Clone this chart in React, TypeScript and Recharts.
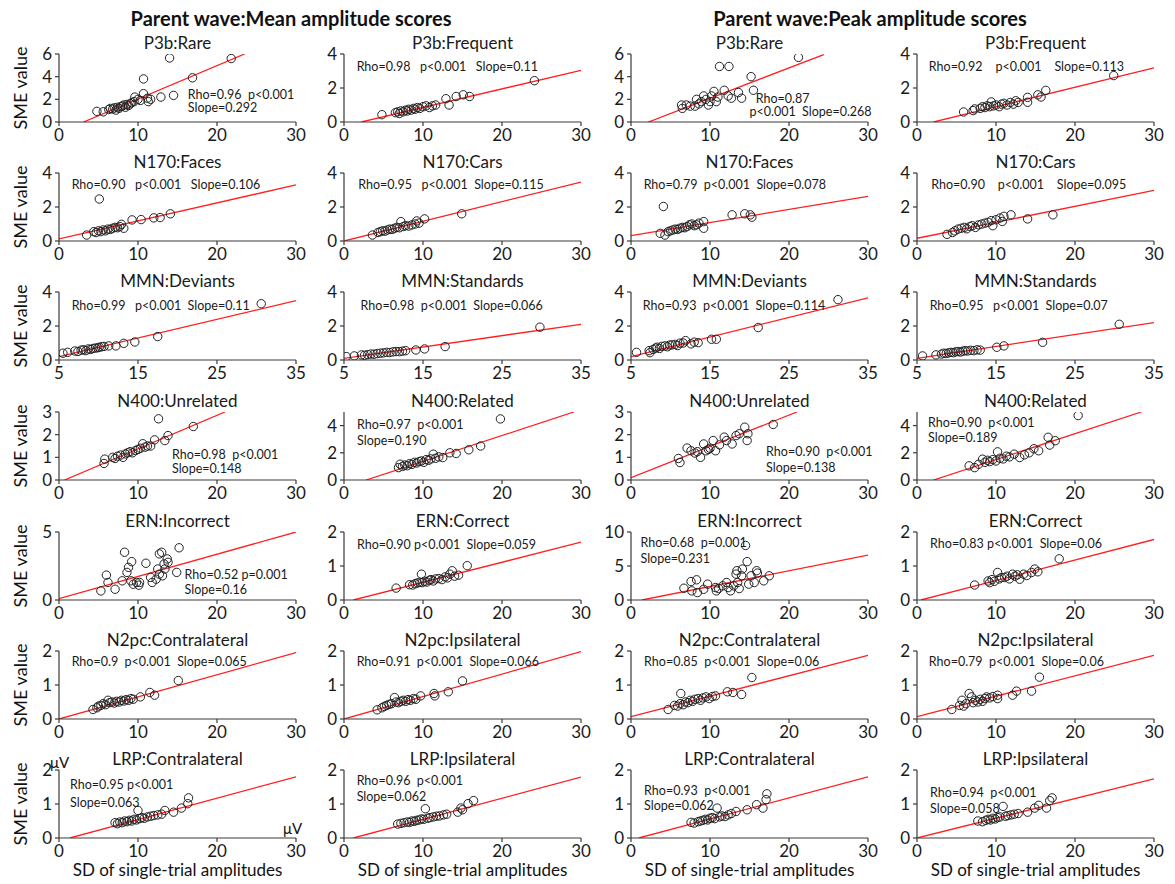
import React from "react";
import { ScatterChart, Scatter, XAxis, YAxis, ReferenceLine } from "recharts";

type Pt = [number, number];

// ---- panel titles, row-major (mean col1, mean col2, peak col1, peak col2) ----
const titles = [
  "P3b:Rare", "P3b:Frequent", "P3b:Rare", "P3b:Frequent",
  "N170:Faces", "N170:Cars", "N170:Faces", "N170:Cars",
  "MMN:Deviants", "MMN:Standards", "MMN:Deviants", "MMN:Standards",
  "N400:Unrelated", "N400:Related", "N400:Unrelated", "N400:Related",
  "ERN:Incorrect", "ERN:Correct", "ERN:Incorrect", "ERN:Correct",
  "N2pc:Contralateral", "N2pc:Ipsilateral", "N2pc:Contralateral", "N2pc:Ipsilateral",
  "LRP:Contralateral", "LRP:Ipsilateral", "LRP:Contralateral", "LRP:Ipsilateral",
];

const headings = ["Parent wave:Mean amplitude scores", "Parent wave:Peak amplitude scores"];

// ---- scatter points (SD of single-trial amplitudes, SME value) ----
const meanP3bRare: Pt[] = [[4.8,0.94],[5.6,0.9],[6.3,1.1],[6.5,1.2],[6.8,1.15],[7.0,1.25],[7.2,1.05],[7.4,1.3],[7.6,1.2],[7.8,1.35],[8.0,1.4],[8.2,1.5],[8.4,1.3],[8.6,1.55],[8.8,1.45],[9.0,1.6],[9.2,1.7],[9.5,1.8],[9.6,2.2],[10.0,2.0],[10.3,1.9],[10.7,3.8],[10.7,2.5],[11.2,2.1],[11.3,1.8],[11.6,2.0],[12.9,2.2],[14.0,5.65],[14.5,2.35],[16.9,3.9],[21.8,5.6]];
const meanP3bFreq: Pt[] = [[4.8,0.43],[6.5,0.55],[6.8,0.6],[7.0,0.5],[7.2,0.65],[7.5,0.6],[7.8,0.7],[8.0,0.65],[8.2,0.75],[8.5,0.7],[8.8,0.8],[9.0,0.75],[9.3,0.85],[9.6,0.8],[10.0,0.9],[10.4,0.95],[10.8,0.85],[11.2,0.95],[11.6,1.0],[12.9,1.37],[13.3,1.0],[14.2,1.5],[15.1,1.6],[15.9,1.5],[24.1,2.43]];
const peakP3bRare: Pt[] = [[6.4,1.5],[6.5,1.2],[7.0,1.5],[7.5,1.4],[8.1,1.4],[8.3,2.0],[8.6,1.6],[8.9,1.8],[9.2,2.3],[9.5,2.0],[9.8,1.5],[10.0,1.8],[10.2,2.3],[10.5,2.7],[10.8,1.8],[11.0,2.2],[11.2,4.9],[11.8,2.8],[12.3,2.3],[12.4,4.9],[12.7,2.1],[13.6,2.6],[14.0,2.1],[15.2,4.0],[15.5,2.8],[21.2,5.7]];
const peakP3bFreq: Pt[] = [[5.9,0.59],[7.1,0.67],[7.3,0.77],[8.0,0.8],[8.3,0.9],[8.6,0.85],[8.9,0.95],[9.2,0.9],[9.4,1.18],[9.7,0.95],[10.0,1.0],[10.4,0.9],[10.7,1.05],[11.0,1.1],[11.4,1.0],[11.8,1.15],[12.2,1.05],[12.5,1.25],[12.8,1.15],[14.0,1.45],[14.0,1.16],[15.3,1.6],[15.7,1.47],[16.3,1.86],[24.9,2.73]];

const meanN170Faces: Pt[] = [[3.5,0.35],[4.4,0.55],[4.7,0.5],[5.0,0.6],[5.1,2.47],[5.3,0.55],[5.6,0.65],[5.9,0.6],[6.2,0.7],[6.5,0.68],[6.8,0.75],[7.1,0.8],[7.4,0.78],[7.7,0.85],[7.9,0.98],[8.2,0.75],[9.25,1.24],[10.4,1.26],[12.0,1.36],[12.8,1.38],[14.1,1.6]];
const meanN170Cars: Pt[] = [[3.6,0.35],[4.3,0.5],[4.6,0.55],[4.9,0.6],[5.2,0.58],[5.5,0.65],[5.8,0.7],[6.1,0.68],[6.4,0.75],[6.7,0.8],[7.0,0.78],[7.2,1.14],[7.5,0.85],[7.8,0.9],[8.2,0.88],[8.6,0.95],[9.0,1.0],[9.2,1.18],[9.5,1.05],[10.2,1.3],[14.9,1.6]];
const peakN170Faces: Pt[] = [[3.7,0.45],[4.1,2.03],[4.3,0.35],[4.7,0.55],[5.0,0.6],[5.3,0.65],[5.6,0.7],[5.9,0.68],[6.2,0.75],[6.5,0.8],[6.8,0.78],[7.1,0.85],[7.4,0.95],[7.7,1.0],[8.0,0.9],[8.3,0.95],[8.6,1.05],[9.2,1.14],[9.2,0.75],[12.8,1.54],[14.4,1.6],[15.1,1.54],[15.3,1.4]];
const peakN170Cars: Pt[] = [[3.8,0.39],[4.5,0.5],[4.8,0.6],[5.2,0.7],[5.6,0.75],[6.0,0.8],[6.3,0.72],[6.7,0.85],[7.0,0.9],[7.4,0.8],[7.8,0.95],[8.2,1.0],[8.6,1.05],[9.0,1.1],[9.4,1.2],[9.6,0.9],[10.0,1.25],[10.5,1.35],[10.8,1.15],[11.0,1.45],[11.9,1.54],[14.0,1.3],[17.2,1.54]];

const meanMmnDev: Pt[] = [[5.5,0.4],[6.1,0.45],[7.0,0.53],[7.4,0.5],[7.8,0.58],[8.1,0.6],[8.4,0.55],[8.7,0.65],[9.0,0.62],[9.3,0.68],[9.6,0.7],[9.9,0.72],[10.1,0.75],[10.4,0.78],[10.7,0.8],[11.3,0.83],[12.2,0.83],[13.2,0.98],[14.6,1.06],[17.5,1.38],[30.6,3.31]];
const meanMmnStd: Pt[] = [[5.3,0.2],[6.3,0.24],[7.2,0.3],[7.6,0.28],[8.0,0.32],[8.4,0.35],[8.8,0.34],[9.2,0.38],[9.6,0.4],[10.0,0.42],[10.4,0.45],[10.8,0.44],[11.2,0.48],[11.6,0.5],[12.0,0.49],[12.4,0.52],[12.8,0.55],[14.1,0.59],[15.2,0.65],[17.8,0.79],[29.8,1.93]];
const peakMmnDev: Pt[] = [[5.7,0.45],[7.3,0.55],[7.4,0.43],[7.8,0.62],[8.1,0.7],[8.3,0.75],[8.6,0.68],[8.9,0.8],[9.3,0.83],[9.6,0.78],[9.9,0.88],[10.2,0.89],[10.6,0.92],[10.9,0.85],[11.2,0.99],[11.6,1.0],[11.9,1.14],[12.6,0.95],[13.0,1.05],[13.5,1.02],[15.2,1.22],[15.8,1.22],[21.1,1.91],[31.2,3.55]];
const peakMmnStd: Pt[] = [[5.7,0.24],[7.4,0.3],[8.1,0.35],[8.4,0.4],[8.7,0.38],[9.0,0.42],[9.3,0.45],[9.6,0.43],[9.9,0.48],[10.2,0.5],[10.5,0.47],[10.8,0.52],[11.1,0.55],[11.4,0.53],[11.8,0.57],[12.2,0.55],[12.6,0.6],[13.0,0.58],[15.1,0.75],[16.0,0.83],[20.9,1.04],[30.6,2.1]];

const meanN400Unrel: Pt[] = [[5.7,0.73],[5.8,0.92],[6.8,1.0],[7.1,0.95],[7.4,1.05],[7.8,1.1],[8.1,1.0],[8.4,1.15],[8.7,1.2],[9.0,1.25],[9.3,1.2],[9.7,1.3],[10.0,1.35],[10.3,1.4],[10.6,1.6],[10.9,1.45],[11.2,1.5],[11.6,1.5],[12.1,1.77],[12.6,2.7],[13.4,1.74],[13.8,1.96],[17.0,2.36]];
const meanN400Rel: Pt[] = [[6.9,0.91],[7.1,1.16],[7.4,1.0],[7.7,1.1],[8.0,1.05],[8.3,1.2],[8.6,1.15],[8.9,1.3],[9.2,1.25],[9.5,1.35],[9.8,1.4],[10.1,1.3],[10.4,1.5],[10.7,1.45],[11.0,1.55],[11.3,1.9],[11.6,1.6],[12.0,1.7],[12.5,1.65],[13.4,2.0],[14.2,1.95],[15.8,2.22],[17.3,2.5],[19.8,4.49]];
const peakN400Unrel: Pt[] = [[6.0,0.95],[6.2,0.77],[7.1,1.41],[7.6,1.29],[8.1,1.19],[8.4,1.25],[8.8,1.0],[9.2,1.59],[9.5,1.29],[9.8,1.35],[10.0,1.4],[10.4,1.74],[10.7,1.29],[11.2,1.55],[11.8,1.89],[12.1,1.74],[12.8,1.59],[13.3,1.96],[13.7,2.04],[14.4,2.33],[14.7,1.74],[14.8,2.04],[18.0,2.45]];
const peakN400Rel: Pt[] = [[6.6,1.04],[7.3,0.91],[7.8,1.16],[8.3,1.53],[8.6,1.3],[8.9,1.45],[9.2,1.35],[9.6,1.5],[10.0,1.4],[10.2,2.07],[10.5,1.6],[10.9,1.55],[11.3,1.75],[11.7,1.7],[12.3,1.9],[13.0,1.65],[13.6,1.85],[14.2,2.0],[14.8,2.3],[15.4,2.15],[16.6,3.14],[16.8,2.57],[17.5,2.89],[20.4,4.74]];

const meanErnInc: Pt[] = [[5.3,0.67],[6.0,1.83],[6.2,1.29],[7.1,0.79],[8.3,3.51],[8.0,1.41],[8.6,2.03],[8.8,2.4],[9.2,2.82],[9.1,1.41],[9.4,1.16],[9.8,1.29],[10.1,1.09],[10.2,1.29],[11.0,2.7],[11.6,1.66],[11.8,1.29],[12.3,1.53],[12.5,2.28],[12.7,3.39],[13.0,3.51],[12.7,1.9],[13.1,1.78],[13.4,2.28],[13.7,3.02],[13.8,2.77],[14.9,2.03],[15.2,3.84],[13.3,2.65]];
const meanErnCor: Pt[] = [[6.6,0.35],[8.3,0.45],[8.7,0.44],[9.0,0.48],[9.3,0.5],[9.6,0.52],[9.8,0.76],[9.9,0.51],[10.2,0.55],[10.5,0.53],[10.8,0.58],[11.0,0.6],[11.3,0.56],[11.6,0.62],[12.0,0.63],[12.4,0.6],[12.8,0.68],[13.1,0.65],[13.4,0.76],[13.7,0.86],[14.0,0.7],[14.5,0.73],[15.6,1.01]];
const peakErnInc: Pt[] = [[6.7,1.73],[7.6,2.72],[7.7,1.34],[8.3,2.97],[8.4,1.09],[9.2,1.58],[9.7,2.33],[10.7,1.83],[10.8,1.34],[11.1,1.68],[11.6,2.08],[12.1,2.57],[12.3,1.83],[12.6,1.34],[13.0,2.08],[13.3,3.81],[13.4,4.31],[13.5,2.57],[13.7,1.68],[14.0,3.56],[14.1,4.55],[14.5,8.02],[14.7,5.64],[14.9,2.33],[15.2,3.56],[15.6,2.57],[15.9,4.31],[16.0,3.96],[16.8,2.82],[17.5,3.56]];
const peakErnCor: Pt[] = [[7.3,0.44],[9.0,0.56],[9.2,0.51],[9.5,0.6],[9.8,0.55],[10.2,0.81],[10.4,0.62],[10.7,0.66],[11.1,0.66],[11.4,0.7],[11.7,0.62],[12.1,0.76],[12.4,0.7],[12.7,0.74],[13.0,0.61],[13.5,0.76],[13.9,0.72],[14.5,0.81],[14.9,0.91],[15.3,0.83],[18.0,1.21]];

const meanN2pcContra: Pt[] = [[4.3,0.28],[4.8,0.33],[5.0,0.38],[5.3,0.4],[5.6,0.45],[5.9,0.42],[6.2,0.55],[6.4,0.48],[6.7,0.5],[7.0,0.47],[7.3,0.52],[7.6,0.5],[7.9,0.55],[8.2,0.53],[8.5,0.57],[8.8,0.55],[9.1,0.6],[9.4,0.58],[10.3,0.65],[11.5,0.78],[12.1,0.7],[15.1,1.13]];
const meanN2pcIpsi: Pt[] = [[4.2,0.27],[4.8,0.33],[5.1,0.37],[5.4,0.4],[5.7,0.43],[6.0,0.45],[6.4,0.63],[6.6,0.5],[6.9,0.48],[7.2,0.52],[7.5,0.55],[7.8,0.52],[8.1,0.57],[8.4,0.55],[8.8,0.6],[9.1,0.58],[9.7,0.68],[11.4,0.75],[11.5,0.68],[13.2,0.8],[15.0,1.12]];
const peakN2pcContra: Pt[] = [[4.7,0.28],[5.5,0.4],[5.9,0.38],[6.2,0.45],[6.3,0.75],[6.6,0.42],[6.9,0.5],[7.2,0.48],[7.5,0.55],[7.8,0.52],[8.1,0.58],[8.5,0.6],[8.8,0.55],[9.1,0.62],[9.5,0.65],[9.9,0.6],[10.3,0.66],[10.7,0.68],[12.2,0.8],[12.9,0.78],[14.0,0.72],[15.3,1.22]];
const peakN2pcIpsi: Pt[] = [[4.4,0.28],[5.4,0.4],[5.7,0.55],[5.9,0.38],[6.2,0.45],[6.6,0.75],[6.9,0.65],[7.1,0.48],[7.4,0.55],[7.7,0.5],[8.0,0.58],[8.3,0.52],[8.6,0.6],[8.8,0.65],[9.2,0.62],[9.6,0.66],[10.2,0.7],[10.2,0.6],[12.1,0.7],[12.6,0.82],[14.5,0.82],[15.5,1.23]];

const meanLrpContra: Pt[] = [[7.1,0.45],[7.4,0.42],[7.7,0.47],[8.0,0.45],[8.3,0.5],[8.6,0.48],[8.9,0.52],[9.2,0.5],[9.5,0.55],[9.8,0.53],[10.0,0.81],[10.2,0.57],[10.5,0.6],[10.8,0.58],[11.2,0.62],[11.6,0.64],[12.0,0.66],[12.5,0.68],[13.0,0.7],[13.4,0.81],[14.5,0.76],[15.5,0.88],[16.3,1.01],[16.4,1.18]];
const meanLrpIpsi: Pt[] = [[6.8,0.41],[7.2,0.43],[7.6,0.45],[8.0,0.47],[8.3,0.46],[8.6,0.5],[8.9,0.49],[9.2,0.52],[9.5,0.53],[9.8,0.56],[10.1,0.55],[10.3,0.86],[10.6,0.58],[10.9,0.6],[11.3,0.62],[11.7,0.64],[12.1,0.65],[12.6,0.68],[13.0,0.7],[14.4,0.76],[14.8,0.88],[15.0,0.83],[15.7,1.01],[16.4,1.1]];
const peakLrpContra: Pt[] = [[7.6,0.46],[8.0,0.44],[8.5,0.48],[8.8,0.5],[9.1,0.52],[9.4,0.55],[9.7,0.53],[10.0,0.58],[10.3,0.6],[10.6,0.57],[10.9,0.88],[11.2,0.62],[11.5,0.65],[11.9,0.63],[12.3,0.68],[12.7,0.72],[13.3,0.78],[14.7,0.83],[15.9,0.98],[16.7,0.88],[17.1,1.13],[17.2,1.3]];
const peakLrpIpsi: Pt[] = [[7.7,0.5],[8.3,0.48],[8.7,0.52],[9.0,0.55],[9.3,0.53],[9.6,0.58],[9.9,0.56],[10.2,0.6],[10.5,0.62],[10.9,0.93],[11.2,0.64],[11.5,0.66],[11.9,0.68],[12.3,0.7],[12.8,0.72],[14.0,0.76],[14.9,0.88],[15.4,0.96],[16.4,0.88],[16.8,1.1],[17.1,1.18]];

const points: Pt[][] = [
  meanP3bRare, meanP3bFreq, peakP3bRare, peakP3bFreq,
  meanN170Faces, meanN170Cars, peakN170Faces, peakN170Cars,
  meanMmnDev, meanMmnStd, peakMmnDev, peakMmnStd,
  meanN400Unrel, meanN400Rel, peakN400Unrel, peakN400Rel,
  meanErnInc, meanErnCor, peakErnInc, peakErnCor,
  meanN2pcContra, meanN2pcIpsi, peakN2pcContra, peakN2pcIpsi,
  meanLrpContra, meanLrpIpsi, peakLrpContra, peakLrpIpsi,
];

// ---- fitted regression lines: [x1, y1, x2, y2] ----
const fitLines: number[][] = [
  [3.1, 0, 23.5, 6], [2.2, 0, 30, 3.04], [2.2, 0, 24.4, 5.95], [2.1, 0, 30, 3.18],
  [0, 0.12, 30, 3.3], [0, 0, 30, 3.47], [0, 0.32, 30, 2.62], [0, 0.16, 30, 2.98],
  [5, 0.2, 35, 3.49], [5, 0.1, 35, 2.1], [5, 0.2, 35, 3.65], [5, 0.1, 35, 2.2],
  [0.7, 0, 21.0, 3.0], [2.8, 0, 29.1, 5.0], [0, 0.1, 21.0, 3.0], [2.1, 0, 28.4, 5.0],
  [0, 0.1, 30, 5.0], [1.2, 0, 30, 1.7], [1.4, 0, 30, 6.6], [0.5, 0, 30, 1.78],
  [0, 0, 30, 1.95], [0, 0, 30, 1.98], [0, 0.07, 30, 1.87], [0, 0.07, 30, 1.87],
  [1.4, 0, 30, 1.8], [1.2, 0, 30, 1.79], [1.0, 0, 30, 1.8], [0, 0, 30, 1.74],
];

// ---- axis ranges ----
const xRanges: number[][] = [[0, 30], [0, 30], [5, 35], [0, 30], [0, 30], [0, 30], [0, 30]]; // per row
const xTicksByRow: number[][] = [
  [0, 10, 20, 30], [0, 10, 20, 30], [5, 15, 25, 35], [0, 10, 20, 30],
  [0, 10, 20, 30], [0, 10, 20, 30], [0, 10, 20, 30],
];
const yMax = [6, 4, 6, 4, 4, 4, 4, 4, 4, 4, 4, 4, 3, 5, 3, 5, 5, 2, 10, 2, 2, 2, 2, 2, 2, 2, 2, 2];
const yTicks: number[][] = [
  [0, 2, 4, 6], [0, 2, 4], [0, 2, 4, 6], [0, 2, 4],
  [0, 2, 4], [0, 2, 4], [0, 2, 4], [0, 2, 4],
  [0, 2, 4], [0, 2, 4], [0, 2, 4], [0, 2, 4],
  [0, 1, 2, 3], [0, 2, 4], [0, 1, 2, 3], [0, 2, 4],
  [0, 5], [0, 1, 2], [0, 5, 10], [0, 1, 2],
  [0, 1, 2], [0, 1, 2], [0, 1, 2], [0, 1, 2],
  [0, 1, 2], [0, 1, 2], [0, 1, 2], [0, 1, 2],
];

// ---- statistics text per panel ----
const statTexts: string[][] = [
  ["Rho=0.96  p<0.001", "Slope=0.292"], ["Rho=0.98   p<0.001   Slope=0.11"], ["Rho=0.87", "p<0.001  Slope=0.268"], ["Rho=0.92    p<0.001    Slope=0.113"],
  ["Rho=0.90   p<0.001   Slope=0.106"], ["Rho=0.95   p<0.001  Slope=0.115"], ["Rho=0.79  p<0.001  Slope=0.078"], ["Rho=0.90    p<0.001    Slope=0.095"],
  ["Rho=0.99   p<0.001  Slope=0.11"], ["Rho=0.98  p<0.001  Slope=0.066"], ["Rho=0.93  p<0.001  Slope=0.114"], ["Rho=0.95   p<0.001  Slope=0.07"],
  ["Rho=0.98  p<0.001", "Slope=0.148"], ["Rho=0.97  p<0.001", "Slope=0.190"], ["Rho=0.90  p<0.001", "Slope=0.138"], ["Rho=0.90  p<0.001", "Slope=0.189"],
  ["Rho=0.52 p=0.001", "Slope=0.16"], ["Rho=0.90 p<0.001  Slope=0.059"], ["Rho=0.68  p=0.001", "Slope=0.231"], ["Rho=0.83 p<0.001  Slope=0.06"],
  ["Rho=0.9  p<0.001  Slope=0.065"], ["Rho=0.91  p<0.001  Slope=0.066"], ["Rho=0.85  p<0.001  Slope=0.06"], ["Rho=0.79  p<0.001  Slope=0.06"],
  ["Rho=0.95 p<0.001", "Slope=0.063"], ["Rho=0.96  p<0.001", "Slope=0.062"], ["Rho=0.93  p<0.001", "Slope=0.062"], ["Rho=0.94  p<0.001", "Slope=0.058"],
];

// layout: where each stat line sits, in axis units [left x, centre y]
const statPos: number[][][] = [
  [[16.3, 2.47], [16.3, 1.24]], [[1.6, 3.27]], [[15.8, 2.1], [15.0, 0.94]], [[1.5, 3.27]],
  [[1.6, 3.35]], [[1.8, 3.35]], [[1.6, 3.35]], [[1.8, 3.35]],
  [[6.6, 3.2]], [[7.1, 3.2]], [[6.5, 3.2]], [[6.6, 3.2]],
  [[14.3, 1.12], [14.3, 0.5]], [[1.65, 4.05], [1.65, 2.94]], [[17.1, 1.25], [17.1, 0.55]], [[1.4, 4.2], [1.4, 3.09]],
  [[15.9, 1.9], [15.9, 0.74]], [[1.65, 1.62]], [[1.2, 8.4], [1.2, 6.1]], [[1.66, 1.65]],
  [[1.6, 1.7]], [[1.6, 1.7]], [[1.66, 1.7]], [[1.5, 1.7]],
  [[1.4, 1.58], [1.4, 1.03]], [[1.6, 1.68], [1.6, 1.21]], [[1.66, 1.4], [1.66, 0.96]], [[1.66, 1.33], [1.66, 0.88]],
];

// ---- layout ----
const COL_X = [59, 344, 631, 917];
const ROW_Y0 = [122, 241, 360, 480, 600, 719, 838];
const PW = 237;
const PH = 68;
const YW = 34;
const MT = 12;
const MR = 18;
const XH = 28;
const FONT = "Lato, 'Open Sans', sans-serif";
const AXIS = "#3a3a3a";

const circle = (p: any) => (
  <circle cx={p.cx} cy={p.cy} r={4.2} fill="none" stroke="#222" strokeWidth={1} />
);

function Panel({ i }: { i: number }) {
  const row = Math.floor(i / 4);
  const col = i % 4;
  const [x0, x1] = xRanges[row];
  const y0 = ROW_Y0[row];
  const left = COL_X[col];
  const data = points[i].map(([x, y]) => ({ x, y }));
  const l = fitLines[i];
  const ym = yMax[i];
  return (
    <>
      <div style={{ position: "absolute", left: left - YW, top: y0 - PH - MT }}>
        <ScatterChart width={YW + PW + MR} height={MT + PH + XH} margin={{ top: MT, right: MR, left: 0, bottom: 0 }}>
          <XAxis
            type="number"
            dataKey="x"
            domain={[x0, x1]}
            ticks={xTicksByRow[row]}
            interval={0}
            allowDataOverflow
            height={XH}
            stroke={AXIS}
            strokeWidth={1.2}
            tickSize={4}
            tickMargin={3}
            tick={{ fontSize: 17, fill: "#1a1a1a", fontFamily: FONT }}
          />
          <YAxis
            type="number"
            dataKey="y"
            domain={[0, ym]}
            ticks={yTicks[i]}
            interval={0}
            allowDataOverflow
            width={YW}
            stroke={AXIS}
            strokeWidth={1.2}
            tickSize={4}
            tickMargin={3}
            tick={{ fontSize: 17, fill: "#1a1a1a", fontFamily: FONT }}
          />
          <ReferenceLine
            segment={[{ x: l[0], y: l[1] }, { x: l[2], y: l[3] }]}
            stroke="#ff1f1f"
            strokeWidth={1.3}
            ifOverflow="hidden"
          />
          <Scatter data={data} shape={circle} isAnimationActive={false} />
        </ScatterChart>
      </div>
      <div
        style={{
          position: "absolute",
          left,
          width: PW,
          top: y0 - PH - 21,
          lineHeight: "20px",
          textAlign: "center",
          fontSize: 17,
          fontFamily: FONT,
          color: "#1a1a1a",
        }}
      >
        {titles[i]}
      </div>
      {statTexts[i].map((t, k) => {
        const [sx, sy] = statPos[i][k];
        return (
          <div
            key={k}
            style={{
              position: "absolute",
              left: left + ((sx - x0) / (x1 - x0)) * PW,
              top: y0 - (sy / ym) * PH - 6.5,
              lineHeight: "13px",
              fontSize: 12.5,
              fontFamily: FONT,
              whiteSpace: "pre",
              color: "#1a1a1a",
            }}
          >
            {t}
          </div>
        );
      })}
    </>
  );
}

export default function App() {
  const text = { position: "absolute" as const, fontFamily: FONT, color: "#111" };
  return (
    <div style={{ position: "absolute", left: 0, top: 0, width: 1175, height: 884, background: "#fff", overflow: "hidden" }}>
      {headings.map((h, k) => (
        <div
          key={h}
          style={{ ...text, left: k === 0 ? 41 : 620, width: 500, top: 6, textAlign: "center", fontSize: 20, fontWeight: 700, lineHeight: "24px" }}
        >
          {h}
        </div>
      ))}
      {titles.map((_, i) => (
        <Panel key={i} i={i} />
      ))}
      {ROW_Y0.map((y) => (
        <div
          key={y}
          style={{ ...text, left: 20 - 60, top: y - 34 - 11, width: 120, lineHeight: "22px", textAlign: "center", fontSize: 18, transform: "rotate(-90deg)" }}
        >
          SME value
        </div>
      ))}
      {COL_X.map((x) => (
        <div key={x} style={{ ...text, left: x, width: PW, top: 860, lineHeight: "20px", textAlign: "center", fontSize: 17 }}>
          SD of single-trial amplitudes
        </div>
      ))}
      <div style={{ ...text, left: 50, top: 753, fontSize: 15, lineHeight: "18px" }}>μV</div>
      <div style={{ ...text, left: 283, top: 819, fontSize: 15, lineHeight: "18px" }}>μV</div>
    </div>
  );
}
